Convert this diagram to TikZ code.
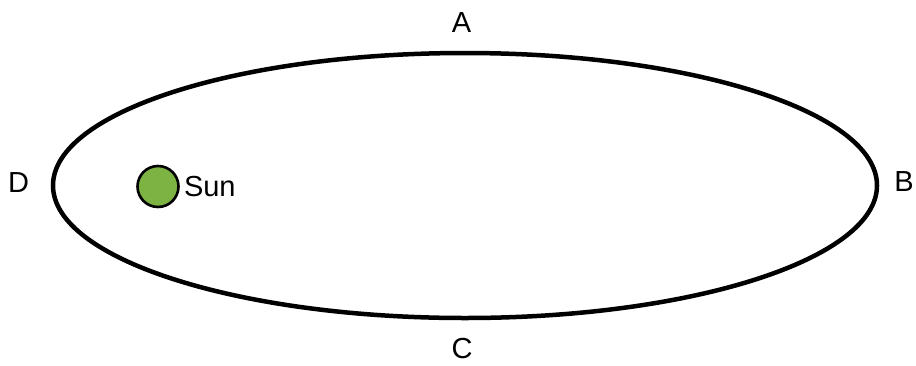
\documentclass[tikz,border=0pt]{standalone}
\usepackage{fontspec}
\setmainfont{Liberation Sans}
\usetikzlibrary{positioning}
\definecolor{sungreen}{HTML}{7CB342}
\tikzset{
  orbit/.style={draw=black, line width=4.5pt},
  sunbody/.style={circle, draw=black, line width=2.6pt, fill=sungreen,
    minimum size=41pt, inner sep=0pt},
  pointname/.style={inner sep=0pt, font=\fontsize{29}{31}\selectfont},
}
\begin{document}
\begin{tikzpicture}[x=1pt, y=-1pt]
  \useasboundingbox (0,0) rectangle (916,365);
  % orbit
  \draw[orbit] (465,185.5) ellipse [x radius=412pt, y radius=132.5pt];
  % sun
  \node[sunbody] (sun) at (158,186.5) {};
  \node[pointname, right=4pt of sun] (sunname) {Sun};
  % points on the orbit
  \node[pointname] (a) at (461.5,22.5) {A};
  \node[pointname] (b) at (904,182) {B};
  \node[pointname] (c) at (462,349) {C};
  \node[pointname] (d) at (18.5,183) {D};
\end{tikzpicture}
\end{document}
